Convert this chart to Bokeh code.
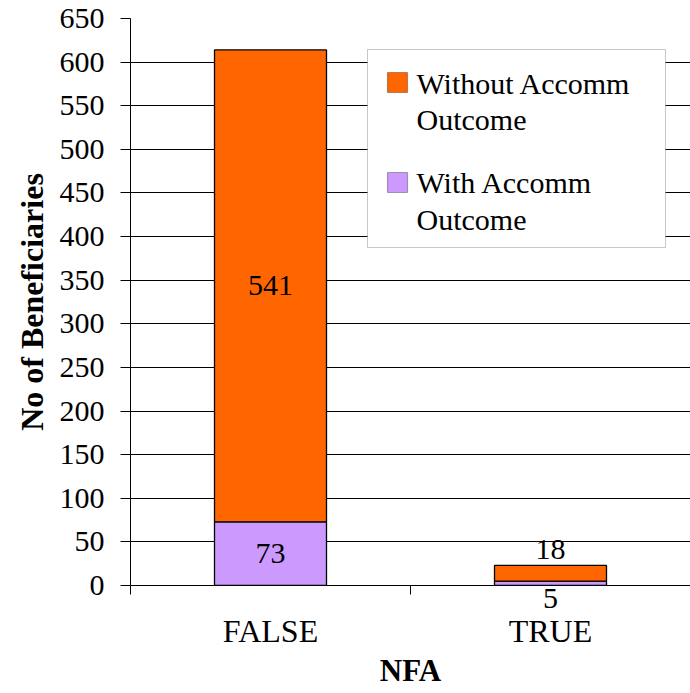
from bokeh.plotting import figure
from bokeh.models import (Range1d, FixedTicker, ColumnDataSource, BoxAnnotation, Label,
                          LinearAxis)
from bokeh.embed import file_html
from bokeh.resources import INLINE

# ---- data ----
categories = ["FALSE", "TRUE"]
with_outcome = [73, 5]
without_outcome = [541, 18]
y_ticks = list(range(0, 651, 50))
series_names = ["Without Accomm\nOutcome", "With Accomm\nOutcome"]
x_title = "NFA"
y_title = "No of Beneficiaries"

FONT = "Liberation Serif"
ORANGE = "#FF6600"
PURPLE = "#CC99FF"
series_colors = [ORANGE, PURPLE]
INSIDE_MIN = 40   # a segment smaller than this gets its label outside the bar

x_pos = [i + 0.5 for i in range(len(categories))]
src = ColumnDataSource(dict(x=x_pos, cat=categories,
                            with_=with_outcome, without=without_outcome))

p = figure(width=690, height=693, output_backend="svg", toolbar_location=None,
           x_range=Range1d(0, len(categories)), y_range=Range1d(0, 650),
           min_border_left=130, min_border_right=0, min_border_top=18,
           min_border_bottom=108)
p.outline_line_color = None
p.background_fill_color = "white"
p.border_fill_color = "white"

rs = p.vbar_stack(["with_", "without"], x="x", width=0.4, color=[PURPLE, ORANGE],
                  line_color="black", line_width=1.3, source=src)

# ---- value labels ----
below_ticks, below_text = [], []
for i, xc in enumerate(x_pos):
    w, wo = with_outcome[i], without_outcome[i]
    total = w + wo
    if wo >= INSIDE_MIN:
        p.add_layout(Label(x=xc, y=w + wo / 2, text=str(wo), text_font=FONT,
                           text_font_size="30px", text_align="center",
                           text_baseline="middle", text_color="black"))
    else:
        p.add_layout(Label(x=xc, y=total, text=str(wo), y_offset=16, text_font=FONT,
                           text_font_size="30px", text_align="center",
                           text_baseline="middle", text_color="black"))
    if w >= INSIDE_MIN:
        p.add_layout(Label(x=xc, y=w / 2, text=str(w), text_font=FONT,
                           text_font_size="30px", text_align="center",
                           text_baseline="middle", text_color="black"))
    else:
        # small segment: label sits just under the bar (outside the frame),
        # shown through the axis that hugs the frame
        below_ticks.append(xc)
        below_text.append(str(w))

# ---- axes ----
# axis next to the frame: boundary ticks + outside value labels
xa = p.xaxis[0]
xa.ticker = FixedTicker(ticks=below_ticks, minor_ticks=list(range(len(categories) + 1)))
xa.major_label_overrides = {xc: t for xc, t in zip(below_ticks, below_text)}
xa.major_tick_out = 0
xa.major_tick_in = 0
xa.minor_tick_out = 9
xa.minor_tick_in = 0
xa.minor_tick_line_color = "black"
xa.major_label_standoff = -6
xa.major_label_text_font = FONT
xa.major_label_text_font_size = "30px"
xa.major_label_text_color = "black"
xa.axis_line_color = "black"

# category axis underneath
xb = LinearAxis(ticker=FixedTicker(ticks=x_pos, minor_ticks=[]))
xb.major_label_overrides = {xc: c for xc, c in zip(x_pos, categories)}
xb.axis_line_color = None
xb.major_tick_line_color = None
xb.minor_tick_line_color = None
xb.major_tick_out = 0
xb.major_tick_in = 0
xb.major_label_standoff = 2
xb.major_label_text_font = FONT
xb.major_label_text_font_size = "32px"
xb.major_label_text_color = "black"
xb.axis_label = x_title
xb.axis_label_text_font = FONT
xb.axis_label_text_font_size = "31px"
xb.axis_label_text_font_style = "bold"
xb.axis_label_text_color = "black"
xb.axis_label_standoff = 1
p.add_layout(xb, "below")

ya = p.yaxis[0]
ya.ticker = FixedTicker(ticks=y_ticks)
ya.major_tick_out = 10
ya.major_tick_in = 0
ya.minor_tick_line_color = None
ya.major_tick_line_color = "black"
ya.major_label_standoff = 16
ya.major_label_text_font = FONT
ya.major_label_text_font_size = "30px"
ya.major_label_text_color = "black"
ya.axis_line_color = "black"
ya.axis_label = y_title
ya.axis_label_text_font = FONT
ya.axis_label_text_font_size = "32px"
ya.axis_label_text_font_style = "bold"
ya.axis_label_text_color = "black"
ya.axis_label_standoff = 7

p.xgrid.visible = False
p.ygrid.ticker = FixedTicker(ticks=y_ticks)
p.ygrid.grid_line_color = "black"
p.ygrid.grid_line_width = 1

# ---- legend (drawn in screen px, measured from the frame's bottom-left) ----
LEG_L, LEG_R, LEG_T, LEG_B = 237, 535, 536, 338
SW_L, SW_SIZE = 257, 20
TXT_X = 286
ITEM_TOP = [513, 413]      # top of each swatch
LINE1_Y = [502.5, 403]     # centre of first text line of each item
LINE_STEP = 36.5

p.add_layout(BoxAnnotation(left=LEG_L, right=LEG_R, top=LEG_T, bottom=LEG_B,
                           left_units="screen", right_units="screen",
                           top_units="screen", bottom_units="screen",
                           fill_color="white", fill_alpha=1,
                           line_color="#444444", line_width=1, level="annotation"))
for k, name in enumerate(series_names):
    p.add_layout(BoxAnnotation(left=SW_L, right=SW_L + SW_SIZE,
                               top=ITEM_TOP[k], bottom=ITEM_TOP[k] - SW_SIZE,
                               left_units="screen", right_units="screen",
                               top_units="screen", bottom_units="screen",
                               fill_color=series_colors[k], fill_alpha=1,
                               line_color="black", line_width=1.2, level="annotation"))
    for j, line in enumerate(name.split("\n")):
        p.add_layout(Label(x=TXT_X, y=LINE1_Y[k] - j * LINE_STEP,
                           x_units="screen", y_units="screen", text=line,
                           text_font=FONT, text_font_size="30px",
                           text_color="black", text_align="left",
                           text_baseline="middle"))

open("out.html", "w").write(file_html(p, INLINE))
